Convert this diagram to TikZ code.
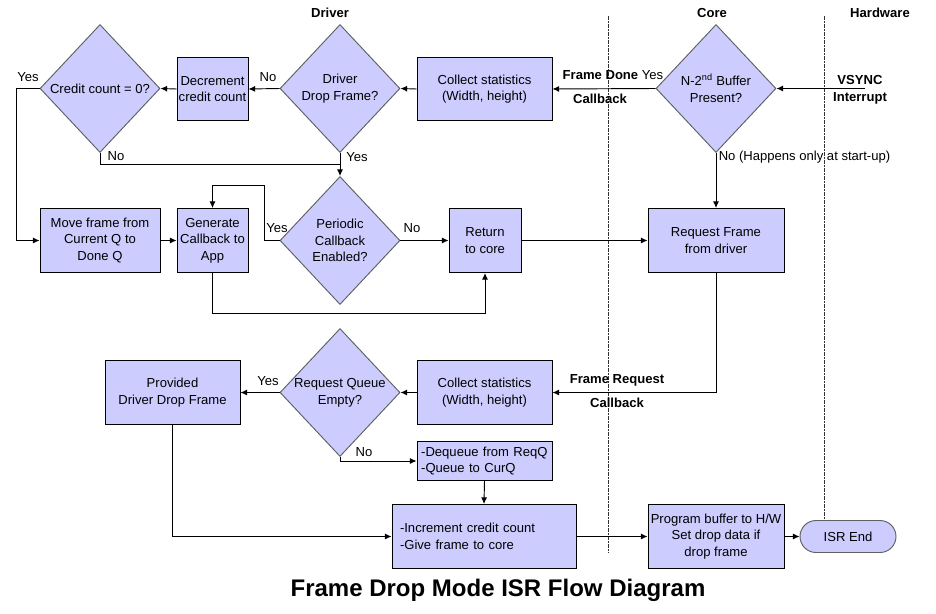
\documentclass[tikz,border=0pt]{standalone}
\usepackage{fontspec}
\setmainfont{Liberation Sans}
\usepackage{tikz}
\usetikzlibrary{arrows.meta,shapes.geometric}

\definecolor{boxfill}{RGB}{204,204,255}
\definecolor{diaedge}{RGB}{96,96,96}

\tikzset{
  box/.style={draw=black, fill=boxfill, align=center, inner sep=1pt,
    font=\fontsize{9.8}{12.5}\selectfont},
  decision/.style={diamond, draw=diaedge, fill=boxfill, align=center, inner sep=0pt,
    minimum width=90pt, minimum height=96pt, font=\fontsize{9.8}{12.5}\selectfont},
  lbl/.style={inner sep=1pt, font=\fontsize{9.8}{12}\selectfont},
  hdr/.style={inner sep=1pt, font=\fontsize{9.8}{12.5}\selectfont\bfseries, align=center},
  lane/.style={draw=black!80, line width=0.6pt, dash pattern=on 3pt off 1pt on 1pt off 1pt},
  arr/.style={->},
}

\begin{document}
\begin{tikzpicture}[x=0.75pt, y=-0.75pt, line width=0.7pt, >={Latex[length=5pt,width=4.5pt]}]
\useasboundingbox (0,0) rectangle (936,614);

% lanes
\foreach \x in {608,824}
    \draw[lane] (\x,16) -- (\x,553);
\foreach \x/\t in {330/Driver, 712/Core, 880/Hardware}
    \node[hdr] (h\t) at (\x,13) {\t};

% top row
\node[decision] (credit) at (100,88.5) {Credit count = 0?};
\node[box, minimum width=53.25pt, minimum height=47.25pt] (decr) at (212.5,89) {Decrement\\credit count};
\node[decision] (drvdrop) at (340,88.5) {Driver\\Drop Frame?};
\node[box, minimum width=101.25pt, minimum height=47.25pt] (stats1) at (484.5,89) {Collect statistics\\(Width, height)};
\node[decision] (bufchk) at (716,88.5) {N-2\textsuperscript{nd} Buffer\\Present?};
\node[hdr] (vsync) at (860,89.5) {VSYNC\\Interrupt};
\coordinate (vs) at (865,88.5);

% middle row
\node[box, minimum width=90pt, minimum height=48pt] (move) at (100,240.5) {Move frame from\\Current Q to\\Done Q};
\node[box, minimum width=53.25pt, minimum height=48pt] (gen) at (212.5,240.5) {Generate\\Callback to\\App};
\node[decision] (periodic) at (340,240.5) {Periodic\\Callback\\Enabled?};
\node[box, minimum width=54pt, minimum height=48pt] (ret) at (485,240.5) {Return\\to core};
\node[box, minimum width=102pt, minimum height=48pt] (reqf) at (716,240.5) {Request Frame\\from driver};

% bottom rows
\node[box, minimum width=101.25pt, minimum height=48pt] (prov) at (172.5,392.5) {Provided\\Driver Drop Frame};
\node[decision] (reqq) at (340,392.5) {Request Queue\\Empty?};
\node[box, minimum width=101.25pt, minimum height=48pt] (stats2) at (484.5,392.5) {Collect statistics\\(Width, height)};
\node[box, align=left, text width=95pt, inner xsep=3.1pt, minimum height=29.25pt] (deq) at (484.5,461) {-Dequeue from ReqQ\\-Queue to CurQ};
\node[box, align=left, text width=126pt, inner xsep=6pt, minimum height=48pt] (inc) at (484,536.5) {-Increment credit count\\-Give frame to core};
\node[box, minimum width=102pt, minimum height=48pt] (prog) at (716,536.5) {Program buffer to H/W\\Set drop data if\\drop frame};
\node[box, draw=diaedge, rounded corners=12pt, minimum width=72pt, minimum height=24pt] (isr) at (848,536.5) {ISR End};

% connectors
\draw[arr] (vs) -- (bufchk.east);
\draw[arr] (bufchk.west) -- (stats1.east);
\draw[arr] (stats1.west) -- (drvdrop.east);
\draw[arr] (drvdrop.west) -- (decr.east);
\draw[arr] (decr.west) -- (credit.east);
\draw[arr] (credit.west) -- ++(-23,0) |- (move.west);
\coordinate (join) at (340,164);
\draw (credit.south) |- (join);
\draw[arr] (drvdrop.south) -- (periodic.north);
\draw[arr] (move.east) -- (gen.west);
\draw[arr] (periodic.west) -- ++(-15,0) -- ++(0,-55) -| (gen.north);
\draw[arr] (periodic.east) -- (ret.west);
\draw[arr] (gen.south) -- ++(0,40) -| (ret.south);
\draw[arr] (ret.east) -- (reqf.west);
\draw[arr] (bufchk.south) -- (reqf.north);
\draw[arr] (reqf.south) |- (stats2.east);
\draw[arr] (stats2.west) -- (reqq.east);
\draw[arr] (reqq.west) -- (prov.east);
\draw[arr] (reqq.south) |- (deq.west);
\draw[arr] (deq.south) -- (inc.north);
\draw[arr] (prov.south) |- (inc.west);
\draw[arr] (inc.east) -- (prog.west);
\draw[arr] (prog.east) -- (isr.west);

% labels
\node[lbl] (yes1) at (28,77) {Yes};
\node[lbl] (no1) at (116,156) {No};
\node[lbl] (no2) at (268,77) {No};
\node[lbl] (yes2) at (357,157) {Yes};
\node[lbl, anchor=east] (fdone) at (665,75) {\textbf{Frame Done} Yes};
\node[hdr] (cb1) at (600,99) {Callback};
\node[lbl, anchor=west] (nostart) at (717,157) {No (Happens only at start-up)};
\node[lbl] (yes3) at (277,228) {Yes};
\node[lbl] (no3) at (412,228) {No};
\node[hdr] (freq) at (617,380) {Frame Request};
\node[hdr] (cb2) at (617,403) {Callback};
\node[lbl] (yes4) at (268,381) {Yes};
\node[lbl] (no4) at (364,452) {No};

\node[font=\fontsize{18}{22}\selectfont\bfseries] (title) at (498,590) {Frame Drop Mode ISR Flow Diagram};
\end{tikzpicture}
\end{document}
